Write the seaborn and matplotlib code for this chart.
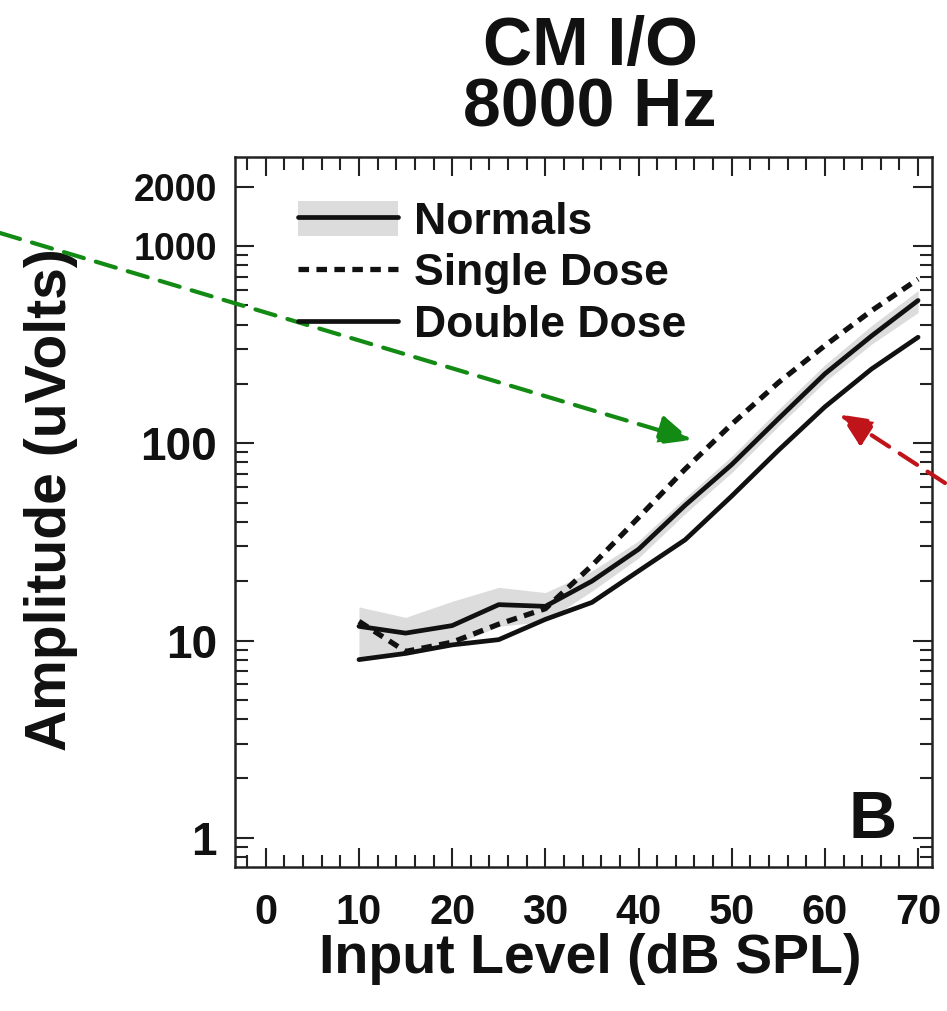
import numpy as np
import pandas as pd
import seaborn as sns
import matplotlib
matplotlib.use('Agg')
from matplotlib import pyplot as plt
from matplotlib import font_manager as fm
from matplotlib.ticker import FixedLocator, LogLocator, NullFormatter
from matplotlib.patches import Patch
from matplotlib.lines import Line2D

# values (dB SPL vs uVolts)
level = [10, 15, 20, 25, 30, 35, 40, 45, 50, 55, 60, 65, 70]
normals = [11.8, 10.9, 11.9, 15.2, 14.9, 20.0, 29.0, 48.5, 78, 133, 225, 350, 530]
normals_hi = [14.8, 13.1, 15.8, 18.6, 17.5, 22.5, 32, 53, 86, 148, 250, 395, 595]
normals_lo = [8.0, 8.4, 9.4, 11.8, 12.5, 17.8, 26.2, 44, 71, 122, 205, 318, 460]
single_dose = [12.5, 8.8, 9.8, 12.1, 14.5, 24.0, 42, 74, 125, 203, 313, 470, 680]
double_dose = [8.0, 8.6, 9.5, 10.1, 12.8, 15.6, 22.5, 32.4, 54, 92, 153, 238, 345]

yticks = [1, 10, 100, 1000, 2000]
xticks = [0, 10, 20, 30, 40, 50, 60, 70]

df = pd.DataFrame({'level': level, 'normals': normals, 'single': single_dose,
                   'double': double_dose, 'lo': normals_lo, 'hi': normals_hi})

sns.set_style('ticks')
names = {f.name for f in fm.fontManager.ttflist}
main_font = 'Liberation Sans' if 'Liberation Sans' in names else 'DejaVu Sans'
plt.rcParams['font.family'] = [main_font, 'DejaVu Sans']
plt.rcParams['font.weight'] = 'bold'
plt.rcParams['axes.labelweight'] = 'bold'
for k in ['text.color', 'axes.labelcolor', 'xtick.color', 'ytick.color']:
    plt.rcParams[k] = '#111111'

fig = plt.figure(figsize=(9.47, 10.11), dpi=100)
ax = fig.add_axes([0.2482, 0.1424, 0.7360, 0.7023])

ax.fill_between(df['level'], df['lo'], df['hi'], color='#dcdcdc', lw=0, zorder=1)
sns.lineplot(data=df, x='level', y='normals', ax=ax, color='#111111', lw=3.4, zorder=3)
sns.lineplot(data=df, x='level', y='double', ax=ax, color='#111111', lw=3.4, zorder=3)
sns.lineplot(data=df, x='level', y='single', ax=ax, color='#111111', lw=3.8, zorder=4,
             linestyle=(0, (2.0, 1.4)))

ax.set_yscale('log')
ax.set_xlim(-3.3, 71.5)
ax.set_ylim(0.71, 2830)

ax.xaxis.set_major_locator(FixedLocator(xticks))
ax.xaxis.set_minor_locator(FixedLocator(np.arange(-2, 72, 2)))
ax.set_xticklabels([str(t) for t in xticks], fontsize=30)
ax.yaxis.set_major_locator(FixedLocator(yticks))
ax.yaxis.set_minor_locator(LogLocator(base=10, subs=np.arange(2, 10)))
ax.yaxis.set_minor_formatter(NullFormatter())
ax.set_yticklabels([str(t) for t in yticks])
for t, lab in zip(yticks, ax.get_yticklabels()):
    lab.set_fontsize(27 if t >= 1000 else 33)

ax.tick_params(which='both', direction='in', top=True, right=True, width=1.5, color='#222222')
ax.tick_params(which='major', length=14)
ax.tick_params(which='minor', length=9)
ax.tick_params(axis='x', pad=19)
ax.tick_params(axis='y', pad=13)
for s in ax.spines.values():
    s.set_linewidth(1.8)
    s.set_color('#222222')

ax.set_xlabel('Input Level (dB SPL)', fontsize=40, va='center')
ax.xaxis.set_label_coords(0.509, -0.129)
ax.set_ylabel('Amplitude (uVolts)', fontsize=41, va='center')
ax.yaxis.set_label_coords(-0.264, 0.517)
ax.set_title('CM I/O\n8000 Hz', fontsize=49, fontweight='bold', linespacing=0.95, pad=22,
             x=(590 - 235) / 697)

ax.text(0.915, 0.065, 'B', transform=ax.transAxes, fontsize=48, fontweight='bold',
        ha='center', va='center')

handles = [(Patch(facecolor='#dcdcdc', edgecolor='none'), Line2D([], [], color='#111111', lw=3.4)),
           Line2D([], [], color='#111111', lw=3.8, linestyle=(0, (2.0, 1.4))),
           Line2D([], [], color='#111111', lw=3.4)]
ax.legend(handles, ['Normals', 'Single Dose', 'Double Dose'], loc='upper left',
          bbox_to_anchor=(0.091, 0.938), frameon=False, borderpad=0,
          prop={'size': 32, 'weight': 'bold'},
          handlelength=2.25, handleheight=0.83, handletextpad=0.36, labelspacing=0.22,
          borderaxespad=0)

# annotation arrows
ax.annotate('', xy=(45.7, 104), xycoords='data', xytext=(0, 778), textcoords='figure pixels',
            arrowprops=dict(arrowstyle='-|>,head_length=2.0,head_width=0.9', color='#138a13',
                            lw=3, linestyle=(0, (5, 3)), shrinkA=0, shrinkB=0,
                            mutation_scale=10),
            annotation_clip=False)
ax.annotate('', xy=(61.6, 140), xycoords='data', xytext=(945, 528), textcoords='figure pixels',
            arrowprops=dict(arrowstyle='-|>,head_length=2.0,head_width=0.9', color='#c0141b',
                            lw=3, linestyle=(0, (5, 3)), shrinkA=0, shrinkB=0,
                            mutation_scale=10),
            annotation_clip=False)

fig.savefig('out.png', dpi=100)
